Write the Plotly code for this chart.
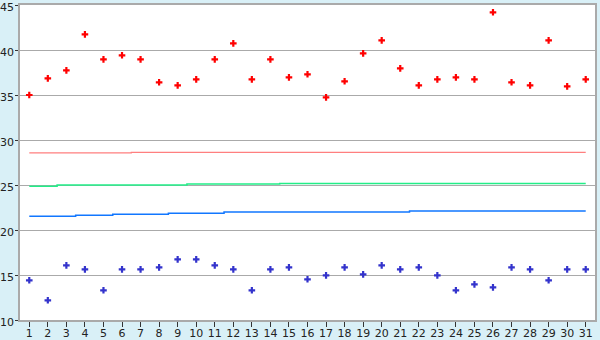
import plotly.graph_objects as go

days = list(range(1, 32))

high_points = [35.0, 36.85, 37.74, 41.74, 38.96, 39.41, 38.96, 36.41, 36.07, 36.74,
               38.96, 40.74, 36.74, 38.96, 36.96, 37.30, 34.74, 36.52, 39.63, 41.07,
               37.96, 36.07, 36.74, 36.96, 36.74, 44.19, 36.41, 36.07, 41.07, 35.96, 36.74]

low_points = [14.41, 12.19, 16.07, 15.63, 13.30, 15.63, 15.63, 15.85, 16.74, 16.74,
              16.07, 15.63, 13.30, 15.63, 15.85, 14.52, 14.96, 15.85, 15.07, 16.07,
              15.63, 15.85, 14.96, 13.30, 13.96, 13.63, 15.85, 15.63, 14.41, 15.63, 15.63]

upper_line = [28.56, 28.56, 28.56, 28.56, 28.56, 28.56, 28.63, 28.63, 28.63, 28.63,
              28.63, 28.63, 28.63, 28.63, 28.63, 28.63, 28.63, 28.63, 28.63, 28.63,
              28.63, 28.63, 28.63, 28.63, 28.63, 28.63, 28.63, 28.63, 28.63, 28.63, 28.63]

mid_line = [24.86, 24.86, 25.0, 25.0, 25.0, 25.0, 25.0, 25.0, 25.0, 25.1,
            25.1, 25.1, 25.1, 25.1, 25.18, 25.18, 25.18, 25.18, 25.18, 25.18,
            25.18, 25.18, 25.18, 25.18, 25.18, 25.18, 25.18, 25.18, 25.18, 25.18, 25.18]

lower_line = [21.52, 21.52, 21.52, 21.63, 21.63, 21.74, 21.74, 21.74, 21.85, 21.85,
              21.85, 22.0, 22.0, 22.0, 22.0, 22.0, 22.0, 22.0, 22.0, 22.0,
              22.0, 22.11, 22.11, 22.11, 22.11, 22.11, 22.11, 22.11, 22.11, 22.11, 22.11]

y_ticks = [10, 15, 20, 25, 30, 35, 40, 45]

fig = go.Figure()
fig.add_trace(go.Scatter(x=days, y=upper_line, mode="lines",
                         line=dict(color="#FF7F7F", width=1.2, shape="hvh")))
fig.add_trace(go.Scatter(x=days, y=mid_line, mode="lines",
                         line=dict(color="#22EE88", width=1.5, shape="hvh")))
fig.add_trace(go.Scatter(x=days, y=lower_line, mode="lines",
                         line=dict(color="#1177FF", width=1.5, shape="hvh")))
fig.add_trace(go.Scatter(x=days, y=high_points, mode="markers",
                         marker=dict(symbol="cross", size=5.5, color="#FF0000",
                                     line=dict(width=0))))
fig.add_trace(go.Scatter(x=days, y=low_points, mode="markers",
                         marker=dict(symbol="cross", size=5.5, color="#3333CC",
                                     line=dict(width=0))))

fig.update_layout(
    width=600, height=340,
    margin=dict(l=20, r=5, t=5, b=20, autoexpand=False),
    paper_bgcolor="#D9F0F7",
    plot_bgcolor="#FFFFFF",
    showlegend=False,
    font=dict(family="DejaVu Sans", size=11, color="#222222"),
)
fig.update_xaxes(
    range=[0.5, 31.5], tickvals=days, ticktext=[str(d) for d in days],
    ticks="outside", ticklen=5, tickcolor="#333333", automargin=False,
    ticklabelstandoff=-3,
    showgrid=False, zeroline=False,
    showline=True, linecolor="#AAAAAA", linewidth=1.5, mirror=True,
)
fig.update_yaxes(
    range=[10, 45], tickvals=y_ticks, automargin=False,
    ticks="outside", ticklen=3, tickcolor="#333333",
    ticklabelshift=2, ticklabelstandoff=-1,
    showgrid=True, gridcolor="#AAAAAA", gridwidth=1, zeroline=False,
    showline=True, linecolor="#AAAAAA", linewidth=1.5, mirror=True,
)

fig.write_html("out.html")
